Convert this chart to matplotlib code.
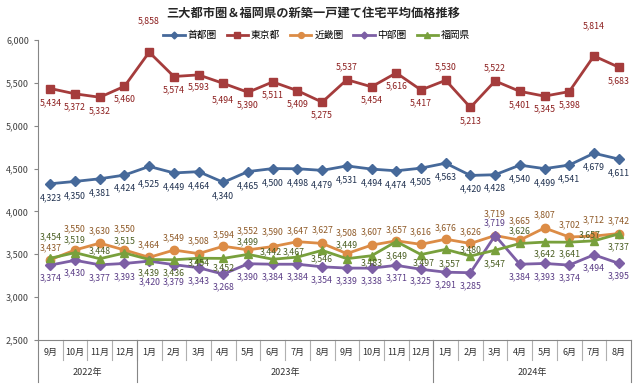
# ============================================
# 三大都市圏＆福岡県 新築一戸建て 平均価格推移
# ============================================

import matplotlib.pyplot as plt
from matplotlib.transforms import blended_transform_factory

plt.rcParams['font.family'] = ['Noto Sans CJK JP', 'DejaVu Sans']

# ============================================
# データ
# ============================================

meses = ["9月", "10月", "11月", "12月",
         "1月", "2月", "3月", "4月", "5月", "6月",
         "7月", "8月", "9月", "10月", "11月", "12月",
         "1月", "2月", "3月", "4月", "5月", "6月", "7月", "8月"]

anios = ["2022年", "2023年", "2024年"]
anio_inicio = [0, 4, 16]
anio_fin = [4, 16, 24]

shutoken = [4323, 4350, 4381, 4424, 4525, 4449, 4464, 4340, 4465, 4500, 4498, 4479,
            4531, 4494, 4474, 4505, 4563, 4420, 4428, 4540, 4499, 4541, 4679, 4611]

tokyo = [5434, 5372, 5332, 5460, 5858, 5574, 5593, 5494, 5390, 5511, 5409, 5275,
         5537, 5454, 5616, 5417, 5530, 5213, 5522, 5401, 5345, 5398, 5814, 5683]

kinki = [3437, 3550, 3630, 3550, 3464, 3549, 3508, 3594, 3552, 3590, 3647, 3627,
         3508, 3607, 3657, 3616, 3676, 3626, 3719, 3665, 3807, 3702, 3712, 3742]

chubu = [3374, 3430, 3377, 3393, 3420, 3379, 3343, 3268, 3390, 3384, 3384, 3354,
         3339, 3338, 3371, 3325, 3291, 3285, 3719, 3384, 3393, 3374, 3494, 3395]

fukuoka = [3454, 3519, 3448, 3515, 3439, 3436, 3454, 3452, 3499, 3442, 3467, 3546,
           3449, 3483, 3649, 3497, 3557, 3480, 3547, 3626, 3642, 3641, 3657, 3737]

# ============================================
# ラベル位置 (ピクセル, +は下)
# ============================================

dy_tokyo = [14, 13, 14, 13, -31, 13, 12, 16, 13, 13, 13, 13,
            -13, 13, 13, 13, -13, 13, -13, 13, 13, 13, -30, 14]
dy_shuto = [14, 14, 14, 13, 17, 14, 14, 14, 14, 14, 14, 14,
            14, 14, 14, 14, 14, 13, 13, 14, 14, 14, 14, 14]
dy_kinki = [-12, -21, -12, -21, -13, -12, -13, -11, -19, -15, -11, -14,
            -21, -13, -11, -13, -11, -12, -22, -19, -13, -12, -16, -13]
dy_chubu = [13, 13, 13, 13, 21, 17, 13, 13, 13, 13, 13, 13,
            13, 13, 12, 12, 13, 13, -13, 13, 13, 13, 13, 13]
dy_fuku = [-21, -13, -8, -12, 13, 13, 5, 9, -13, -7, -5, 8,
           -14, 7, 14, 8, 14, -6, 14, -13, 12, 12, -6, 13]
dx_fuku = [0, 0, 0, 0, 0, 0, 0, 0, 0, -2, -4, 0,
           0, 0, 0, 3, 4, 0, 0, 0, 0, 0, -4, 0]

series = [
    ("首都圏", shutoken, '#46699A', '#1F304F', 'D', 5, dy_shuto, None),
    ("東京都", tokyo, '#A53C3C', '#8C1E1E', 's', 5.5, dy_tokyo, None),
    ("近畿圏", kinki, '#DC8C46', '#8F5A28', 'o', 6, dy_kinki, None),
    ("中部圏", chubu, '#7D5FA5', '#5A3C86', 'D', 5, dy_chubu, None),
    ("福岡県", fukuoka, '#78A03C', '#4A5E22', '^', 6, dy_fuku, dx_fuku),
]

# ============================================
# グラフ
# ============================================

fig = plt.figure(figsize=(6.4, 3.85), dpi=100)
ax = fig.add_axes([38/640, 45/385, 593/640, 300/385])

x = [i + 0.5 for i in range(len(meses))]

for nombre, valores, color, color_txt, marker, ms, dys, dxs in series:

    ax.plot(
        x, valores,
        color=color, linewidth=2,
        marker=marker, markersize=ms,
        markerfacecolor=color, markeredgecolor=color,
        label=nombre, zorder=3
    )

    for i, v in enumerate(valores):
        dx = dxs[i] if dxs else 0
        ax.annotate(
            f"{v:,}", (x[i], v),
            xytext=(dx, -dys[i]), textcoords='offset pixels',
            ha='center', va='center',
            fontsize=6.3, color=color_txt, zorder=4
        )

# ============================================
# 軸
# ============================================

ax.set_xlim(0, len(meses))
ax.set_ylim(2500, 6000)
ax.set_yticks(range(2500, 6001, 500))
ax.set_yticklabels([f"{v:,}" for v in range(2500, 6001, 500)])
ax.tick_params(axis='y', labelsize=6.5, colors='#868686', length=3, width=0.8)
for lbl in ax.get_yticklabels():
    lbl.set_color('#404040')
ax.set_xticks([])

for lado in ['top', 'right']:
    ax.spines[lado].set_visible(False)
ax.spines['left'].set_color('#868686')
ax.spines['bottom'].set_color('#868686')

# eje de categorías en dos niveles
trans = blended_transform_factory(ax.transData, ax.transAxes)

for i, m in enumerate(meses):
    ax.text(i + 0.5, -0.04, m, transform=trans,
            ha='center', va='center', fontsize=6.5, color='#303030')
    if i > 0:
        ax.plot([i, i], [0, -0.067], transform=trans,
                color='#B0B0B0', linewidth=0.8, clip_on=False)

for a, ini, fin in zip(anios, anio_inicio, anio_fin):
    ax.text((ini + fin) / 2, -0.11, a, transform=trans,
            ha='center', va='center', fontsize=6.5, color='#303030')

for b in [0, 4, 16, 24]:
    ax.plot([b, b], [0, -0.14], transform=trans,
            color='#868686', linewidth=0.8, clip_on=False)

# ============================================
# タイトル・凡例
# ============================================

fig.text(0.49, 0.966, "三大都市圏＆福岡県の新築一戸建て住宅平均価格推移",
         ha='center', va='center', fontsize=8.8, fontweight='bold', color='#262626')

fig.legend(
    loc='center', bbox_to_anchor=(0.495, 0.909), ncol=5,
    frameon=False, fontsize=7, handlelength=2.2,
    handletextpad=0.3, columnspacing=1.0, markerscale=0.7
)

fig.savefig("out.png", dpi=100)
